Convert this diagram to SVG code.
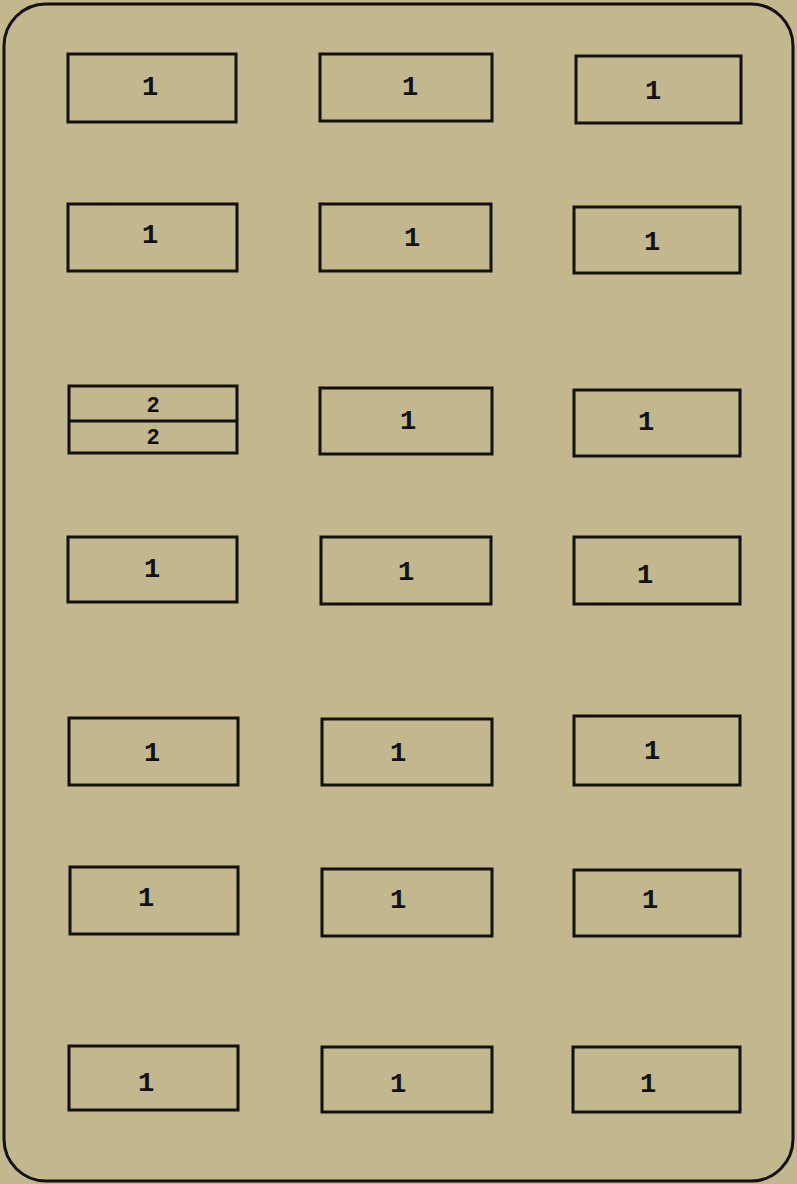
<svg xmlns="http://www.w3.org/2000/svg" width="797" height="1184" viewBox="0 0 797 1184">
<style>
.b{fill:none;stroke:#111;stroke-width:3}
.t{font-family:"Liberation Mono",monospace;font-weight:bold;font-size:27px;fill:#111;text-anchor:middle;dominant-baseline:central}
.t2{font-family:"Liberation Mono",monospace;font-weight:bold;font-size:22px;fill:#111;text-anchor:middle;dominant-baseline:central}
</style>
<rect x="0" y="0" width="797" height="1184" fill="#c3b78d"/>
<rect id="frame" x="4" y="4" width="789" height="1177" rx="42" ry="42" fill="none" stroke="#111" stroke-width="3"/>
<g id="n1"><rect class="b" x="68" y="54" width="168" height="68"/><text class="t" x="150" y="88">1</text></g>
<g id="n2"><rect class="b" x="320" y="54" width="172" height="67"/><text class="t" x="410" y="88">1</text></g>
<g id="n3"><rect class="b" x="576" y="56" width="165" height="67"/><text class="t" x="653" y="92">1</text></g>
<g id="n4"><rect class="b" x="68" y="204" width="169" height="67"/><text class="t" x="150" y="236">1</text></g>
<g id="n5"><rect class="b" x="320" y="204" width="171" height="67"/><text class="t" x="412" y="239">1</text></g>
<g id="n6"><rect class="b" x="574" y="207" width="166" height="66"/><text class="t" x="652" y="243">1</text></g>
<g id="n7"><rect class="b" x="69" y="386" width="168" height="67"/><line class="b" x1="69" y1="421" x2="237" y2="421"/><text class="t2" x="153" y="406">2</text><text class="t2" x="153" y="438">2</text></g>
<g id="n8"><rect class="b" x="320" y="388" width="172" height="66"/><text class="t" x="408" y="422">1</text></g>
<g id="n9"><rect class="b" x="574" y="390" width="166" height="66"/><text class="t" x="646" y="423">1</text></g>
<g id="n10"><rect class="b" x="68" y="537" width="169" height="65"/><text class="t" x="152" y="570">1</text></g>
<g id="n11"><rect class="b" x="321" y="537" width="170" height="67"/><text class="t" x="406" y="573">1</text></g>
<g id="n12"><rect class="b" x="574" y="537" width="166" height="67"/><text class="t" x="645" y="576">1</text></g>
<g id="n13"><rect class="b" x="69" y="718" width="169" height="67"/><text class="t" x="152" y="754">1</text></g>
<g id="n14"><rect class="b" x="322" y="719" width="170" height="66"/><text class="t" x="398" y="754">1</text></g>
<g id="n15"><rect class="b" x="574" y="716" width="166" height="69"/><text class="t" x="652" y="752">1</text></g>
<g id="n16"><rect class="b" x="70" y="867" width="168" height="67"/><text class="t" x="146" y="899">1</text></g>
<g id="n17"><rect class="b" x="322" y="869" width="170" height="67"/><text class="t" x="398" y="901">1</text></g>
<g id="n18"><rect class="b" x="574" y="870" width="166" height="66"/><text class="t" x="650" y="901">1</text></g>
<g id="n19"><rect class="b" x="69" y="1046" width="169" height="64"/><text class="t" x="146" y="1084">1</text></g>
<g id="n20"><rect class="b" x="322" y="1047" width="170" height="65"/><text class="t" x="398" y="1085">1</text></g>
<g id="n21"><rect class="b" x="573" y="1047" width="167" height="65"/><text class="t" x="648" y="1085">1</text></g>
<g id="connectors"></g>
</svg>
